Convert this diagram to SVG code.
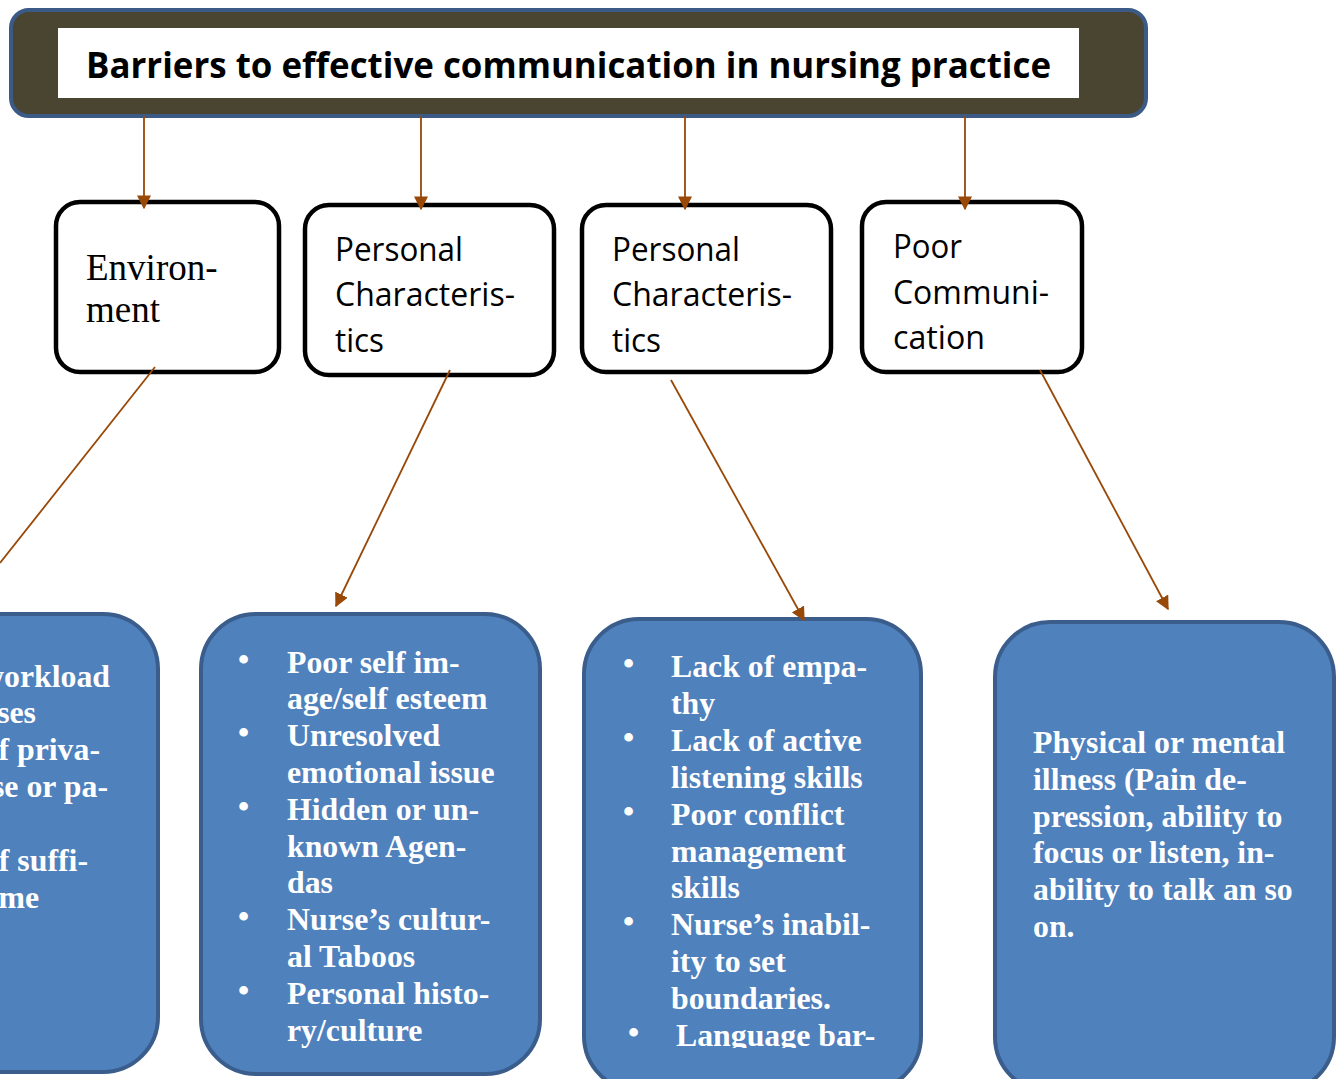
<svg xmlns="http://www.w3.org/2000/svg" width="1339" height="1079" viewBox="0 0 1339 1079">
<defs>
<style>
.node{fill:#fff;stroke:#000;stroke-width:4.5}
.blue{fill:#4f81bd;stroke:#3a5d8c;stroke-width:4}
.conn{stroke:#984807;stroke-width:1.8;fill:none}
.sans{font-family:"Open Sans","Liberation Sans",sans-serif;font-size:32px;fill:#000}
.serif{font-family:"Liberation Serif","Times New Roman",serif;font-size:37px;fill:#000}
.bt{font-family:"Liberation Serif","Times New Roman",serif;font-size:31.8px;font-weight:bold;fill:#fff}
</style>
<marker id="ah2" viewBox="0 0 10 10" refX="9" refY="5" markerWidth="14" markerHeight="14" markerUnits="userSpaceOnUse" orient="auto"><path d="M0,0 L10,5 L0,10 z" fill="#984807"/></marker>
<clipPath id="c3"><rect x="580" y="610" width="350" height="438"/></clipPath>
</defs>

<g id="title">
<rect x="11" y="10" width="1135" height="106" rx="18" fill="#4a4530" stroke="#3c5a86" stroke-width="4"/>
<rect x="58" y="28" width="1021" height="70" fill="#fff"/>
<text x="86" y="78" font-family="'Open Sans','Liberation Sans',sans-serif" font-weight="bold" font-size="36" textLength="965" lengthAdjust="spacingAndGlyphs">Barriers to effective communication in nursing practice</text>
</g>

<g id="n-environment">
<rect class="node" x="56" y="202" width="223" height="170" rx="24"/>
<text class="serif" x="86" y="280">Environ-</text>
<text class="serif" x="86" y="322">ment</text>
</g>

<g id="n-personal1">
<rect class="node" x="305" y="205" width="249" height="170" rx="24"/>
<text class="sans" x="335" y="261" textLength="128" lengthAdjust="spacingAndGlyphs">Personal</text>
<text class="sans" x="335" y="306" textLength="180" lengthAdjust="spacingAndGlyphs">Characteris-</text>
<text class="sans" x="335" y="352" textLength="49" lengthAdjust="spacingAndGlyphs">tics</text>
</g>

<g id="n-personal2">
<rect class="node" x="582" y="205" width="249" height="167" rx="24"/>
<text class="sans" x="612" y="261" textLength="128" lengthAdjust="spacingAndGlyphs">Personal</text>
<text class="sans" x="612" y="306" textLength="180" lengthAdjust="spacingAndGlyphs">Characteris-</text>
<text class="sans" x="612" y="352" textLength="49" lengthAdjust="spacingAndGlyphs">tics</text>
</g>

<g id="n-poorcomm">
<rect class="node" x="862" y="202" width="220" height="170" rx="24"/>
<text class="sans" x="893" y="258" textLength="69" lengthAdjust="spacingAndGlyphs">Poor</text>
<text class="sans" x="893" y="304" textLength="156" lengthAdjust="spacingAndGlyphs">Communi-</text>
<text class="sans" x="893" y="349" textLength="92" lengthAdjust="spacingAndGlyphs">cation</text>
</g>

<g id="b-environment">
<rect class="blue" x="-200" y="614" width="358" height="458" rx="55"/>
<text class="bt" x="110" y="687" text-anchor="end">workload</text>
<text class="bt" x="36" y="723" text-anchor="end">ses</text>
<text class="bt" x="100" y="760" text-anchor="end">f priva-</text>
<text class="bt" x="108" y="797" text-anchor="end">se or pa-</text>
<text class="bt" x="88" y="871" text-anchor="end">f suffi-</text>
<text class="bt" x="39" y="908" text-anchor="end">me</text>
</g>

<g id="b-personal1">
<rect class="blue" x="201" y="614" width="339" height="460" rx="55"/>
<g class="bt">
<text x="238" y="670">•</text><text x="287" y="673">Poor self im-</text>
<text x="287" y="709">age/self esteem</text>
<text x="238" y="743">•</text><text x="287" y="746">Unresolved</text>
<text x="287" y="783">emotional issue</text>
<text x="238" y="817">•</text><text x="287" y="820">Hidden or un-</text>
<text x="287" y="857">known Agen-</text>
<text x="287" y="893">das</text>
<text x="238" y="927">•</text><text x="287" y="930">Nurse’s cultur-</text>
<text x="287" y="967">al Taboos</text>
<text x="238" y="1001">•</text><text x="287" y="1004">Personal histo-</text>
<text x="287" y="1041">ry/culture</text>
</g>
</g>

<g id="b-personal2">
<rect class="blue" x="584" y="619" width="337" height="472" rx="55"/>
<g class="bt" clip-path="url(#c3)">
<text x="623" y="674">•</text><text x="671" y="677">Lack of empa-</text>
<text x="671" y="714">thy</text>
<text x="623" y="748">•</text><text x="671" y="751">Lack of active</text>
<text x="671" y="788">listening skills</text>
<text x="623" y="822">•</text><text x="671" y="825">Poor conflict</text>
<text x="671" y="862">management</text>
<text x="671" y="898">skills</text>
<text x="623" y="932">•</text><text x="671" y="935">Nurse’s inabil-</text>
<text x="671" y="972">ity to set</text>
<text x="671" y="1009">boundaries.</text>
<text x="628" y="1043">•</text><text x="676" y="1046">Language bar-</text>
</g>
</g>

<g id="b-poorcomm">
<rect class="blue" x="995" y="622" width="339" height="470" rx="55"/>
<g class="bt">
<text x="1033" y="753">Physical or mental</text>
<text x="1033" y="790">illness (Pain de-</text>
<text x="1033" y="827">pression, ability to</text>
<text x="1033" y="863">focus or listen, in-</text>
<text x="1033" y="900">ability to talk an so</text>
<text x="1033" y="937">on.</text>
</g>
</g>

<g id="connectors">
<line class="conn" x1="144" y1="116" x2="144" y2="208" marker-end="url(#ah2)"/>
<line class="conn" x1="421" y1="116" x2="421" y2="209" marker-end="url(#ah2)"/>
<line class="conn" x1="685" y1="116" x2="685" y2="209" marker-end="url(#ah2)"/>
<line class="conn" x1="965" y1="116" x2="965" y2="209" marker-end="url(#ah2)"/>
<line class="conn" x1="155" y1="367" x2="0" y2="563"/>
<line class="conn" x1="450" y1="370" x2="336" y2="606" marker-end="url(#ah2)"/>
<line class="conn" x1="671" y1="380" x2="804" y2="620" marker-end="url(#ah2)"/>
<line class="conn" x1="1040" y1="370" x2="1168" y2="609" marker-end="url(#ah2)"/>
</g>
</svg>
